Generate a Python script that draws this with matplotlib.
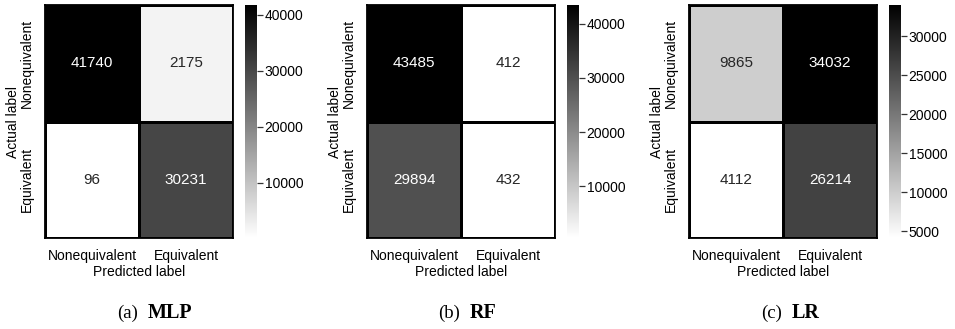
import numpy as np
import matplotlib
matplotlib.use("Agg")
import matplotlib.pyplot as plt
import seaborn as sns

# confusion matrices (rows: actual, cols: predicted)
labels = ["Nonequivalent", "Equivalent"]
mlp = [[41740, 2175], [96, 30231]]
rf = [[43485, 412], [29894, 432]]
lr = [[9865, 34032], [4112, 26214]]
panels = [("(a)", "MLP", mlp), ("(b)", "RF", rf), ("(c)", "LR", lr)]

plt.rcParams["font.family"] = ["Liberation Sans", "DejaVu Sans"]

W, H = 955, 329
fig = plt.figure(figsize=(W / 100, H / 100), dpi=100)

# left edges of heatmaps and colorbars, in pixels
hm_left = [45, 367, 689]
cb_left = [245, 567, 889]
hm_w, cb_w = 188, 12
top, bottom = 5, 238


def afficher_matrice(i, tag, nom, data):
    ax = fig.add_axes([hm_left[i] / W, 1 - bottom / H, hm_w / W, (bottom - top) / H])
    cax = fig.add_axes([cb_left[i] / W, 1 - bottom / H, cb_w / W, (bottom - top) / H])
    sns.heatmap(np.array(data), ax=ax, cbar_ax=cax, cmap="gray_r", annot=True,
                fmt="d", annot_kws={"fontsize": 11}, linewidths=1.0,
                linecolor="black", xticklabels=labels, yticklabels=labels)
    for s in ax.spines.values():
        s.set_visible(True)
        s.set_linewidth(1.3)
        s.set_color("black")
    ax.tick_params(length=0, labelsize=10, pad=8)
    ax.set_yticklabels(labels, rotation=90, va="center")
    ax.set_xticklabels(labels, rotation=0)
    ax.set_xlabel("Predicted label", fontsize=10, labelpad=1)
    ax.set_ylabel("Actual label", fontsize=10, labelpad=0)
    cax.tick_params(labelsize=10, length=4, width=0.9, color="#333333", pad=1.5)
    for s in cax.spines.values():
        s.set_visible(False)
    cx = (hm_left[i] + hm_w / 2 + 5) / W
    fig.text(cx - 0.006, 1 - 313 / H, tag, ha="right", va="center",
             fontsize=13.5, family="Liberation Serif")
    fig.text(cx + 0.004, 1 - 313 / H, nom, ha="left", va="center",
             fontsize=14.5, family="Liberation Serif", fontweight="bold")


for i, (tag, nom, data) in enumerate(panels):
    afficher_matrice(i, tag, nom, data)

fig.savefig("out.png", dpi=100)
